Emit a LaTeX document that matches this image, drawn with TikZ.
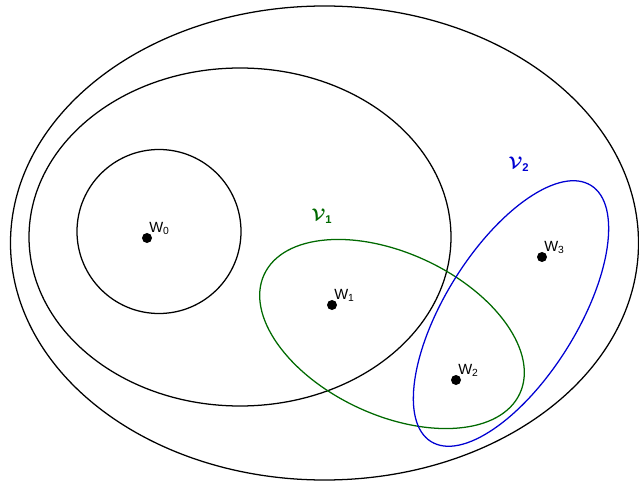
\documentclass[tikz,border=0pt]{standalone}
\usepackage{amsmath,amssymb,bm}
\usepackage{fontspec}
\setmainfont{Liberation Sans}
\usepackage{tikz}
\usetikzlibrary{positioning}
\definecolor{SetGreen}{RGB}{0,105,0}
\definecolor{SetBlue}{RGB}{0,0,210}
\tikzset{
  region/.style={draw=black,line width=0.9pt},
  green set/.style={draw=SetGreen,line width=0.9pt},
  blue set/.style={draw=SetBlue,line width=0.9pt},
  dot/.style={circle,fill=black,inner sep=0pt,minimum size=0.25cm},
  lab/.style={anchor=south west,inner sep=0pt,font=\fontsize{10.5}{12}\selectfont},
  setlab/.style={font=\fontsize{12}{14}\selectfont},
}

\begin{document}
\begin{tikzpicture}[x=0.025cm,y=0.025cm]
\useasboundingbox (0,0) rectangle (639,482);
% nested regions
\draw[region] (324.5,239) ellipse [x radius=314,y radius=237];
\draw[region] (240,245) ellipse [x radius=211,y radius=169];
\draw[region] (159,250.5) circle [radius=82];
% the two sets
\draw[green set] (392,148) ellipse [x radius=141,y radius=81,rotate=-25];
\draw[blue set] (511,168.5) ellipse [x radius=151,y radius=66,rotate=58];
\node[setlab,text=SetGreen] (v1) at (322,266) {$\bm{\mathcal{V}}_{\mathbf{1}}$};
\node[setlab,text=SetBlue] (v2) at (519,318) {$\bm{\mathcal{V}}_{\mathbf{2}}$};
% worlds
\node[dot] (w0) at (147,244) {};
\node[dot] (w1) at (332,177) {};
\node[dot] (w2) at (456,102) {};
\node[dot] (w3) at (542,225) {};
\node[lab] (lw0) at ([shift={(2,3)}]w0) {W\textsubscript{0}};
\node[lab] (lw1) at ([shift={(2,3)}]w1) {W\textsubscript{1}};
\node[lab] (lw2) at ([shift={(2,3)}]w2) {W\textsubscript{2}};
\node[lab] (lw3) at ([shift={(2,3)}]w3) {W\textsubscript{3}};
\end{tikzpicture}
\end{document}
